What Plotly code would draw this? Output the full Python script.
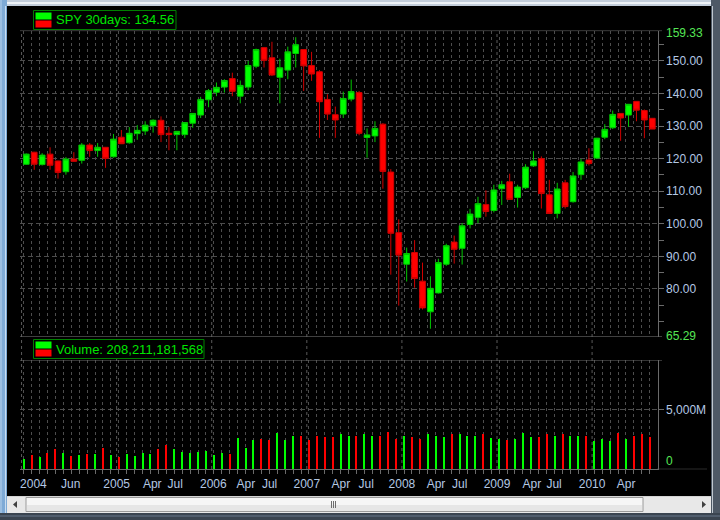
import plotly.graph_objects as go

# ---------------- data ----------------
opens = [118.3, 122.0, 118.2, 121.4, 119.3, 116.0, 119.9, 119.5, 124.2, 122.5,
         123.5, 120.6, 126.6, 124.9, 127.7, 128.5, 130.1, 131.8, 127.8, 127.4,
         127.4, 130.9, 133.4, 138.1, 140.4, 142.0, 144.6, 139.2, 142.0, 148.4,
         154.1, 151.0, 145.0, 147.2, 152.3, 153.5, 148.6, 146.7, 138.2, 133.5,
         133.7, 138.3, 140.3, 126.5, 127.0, 130.6, 115.9, 97.3, 87.6, 91.2,
         82.4, 73.0, 78.8, 87.6, 94.4, 92.5, 99.8, 102.0, 105.9, 104.1,
         110.8, 112.9, 108.1, 111.1, 117.8, 120.0, 108.9, 103.2, 112.6, 106.8,
         115.1, 119.6, 120.2, 126.6, 129.5, 133.9, 133.4, 137.6, 134.8, 132.4]
highs = [121.6, 122.1, 121.7, 123.5, 119.4, 120.5, 122.0, 124.8, 124.8, 124.8,
         123.6, 127.6, 128.8, 129.7, 130.3, 131.5, 132.1, 133.0, 129.7, 128.4,
         131.1, 133.9, 139.0, 141.4, 143.4, 144.4, 146.4, 144.0, 150.0, 153.8,
         154.3, 155.9, 150.7, 154.4, 157.3, 153.5, 152.8, 147.2, 139.8, 136.0,
         140.6, 144.3, 140.8, 129.3, 131.5, 130.9, 116.8, 101.4, 92.7, 95.0,
         88.1, 83.9, 89.3, 93.9, 96.4, 100.2, 104.6, 108.3, 110.3, 112.0,
         113.2, 115.4, 112.0, 118.3, 122.3, 120.7, 113.5, 112.6, 113.5, 115.9,
         119.9, 123.2, 126.4, 130.6, 134.8, 134.0, 136.8, 137.7, 135.1, 132.4]
lows = [118.1, 116.6, 117.9, 116.6, 113.9, 115.1, 119.1, 118.5, 120.6, 120.6,
        117.2, 120.3, 124.5, 124.6, 125.8, 127.3, 128.0, 125.1, 122.6, 122.6,
        126.4, 129.5, 132.5, 135.8, 139.2, 140.3, 139.2, 137.0, 141.0, 147.8,
        148.0, 145.4, 137.0, 144.4, 148.0, 140.8, 143.9, 126.4, 131.9, 126.4,
        132.5, 137.6, 127.2, 120.3, 125.1, 110.8, 84.4, 74.9, 82.3, 80.4,
        73.7, 67.8, 78.6, 87.1, 87.8, 87.5, 98.6, 100.2, 102.2, 103.5,
        105.8, 107.4, 105.0, 110.7, 117.5, 104.7, 103.1, 101.7, 104.7, 106.5,
        113.5, 117.9, 120.0, 126.0, 129.1, 125.5, 129.8, 131.5, 126.3, 129.1]
closes = [121.4, 118.3, 121.1, 118.0, 115.8, 119.9, 119.2, 124.2, 122.5, 123.5,
          120.1, 126.0, 124.6, 127.8, 128.7, 130.3, 131.8, 127.4, 127.4, 128.4,
          131.1, 133.9, 138.2, 140.9, 141.9, 144.0, 140.7, 142.5, 148.6, 153.5,
          150.2, 145.7, 147.9, 152.8, 155.0, 148.5, 146.0, 137.5, 133.7, 131.9,
          138.5, 140.6, 127.8, 127.3, 129.3, 116.1, 97.1, 90.4, 90.9, 83.2,
          74.2, 80.2, 88.1, 93.3, 92.2, 99.4, 103.0, 106.2, 103.8, 110.4,
          112.0, 107.5, 111.3, 117.4, 119.3, 109.3, 103.2, 110.7, 105.3, 114.7,
          119.0, 118.5, 126.3, 129.0, 133.6, 132.5, 136.7, 134.9, 131.9, 129.1]
volumes_m = [860, 1190, 1030, 1360, 1690, 1360, 1110, 1190, 1280, 1280,
             1780, 1190, 1030, 1280, 1110, 1360, 1280, 1690, 2030, 1690,
             1440, 1360, 1440, 1530, 1190, 1360, 1280, 2610, 1780, 2440,
             2530, 2440, 3030, 2440, 2780, 2780, 2440, 2780, 2690, 2690,
             2940, 2780, 2780, 2940, 2780, 2780, 3110, 2530, 2780, 2690,
             2530, 2940, 2780, 2690, 2940, 2940, 2780, 2780, 2940, 2610,
             2530, 2440, 2530, 3030, 2690, 2690, 2940, 2780, 2940, 2780,
             2780, 2780, 2360, 2530, 2360, 3030, 2530, 2780, 2940, 2690]
tick_labels = ["2004", "Jun", "2005", "Apr", "Jul", "2006", "Apr", "Jul", "2007", "Apr",
               "Jul", "2008", "Apr", "Jul", "2009", "Apr", "Jul", "2010", "Apr"]
tick_pos = [0.9, 5.6, 11.4, 15.9, 18.8, 23.6, 27.7, 30.7, 35.4, 39.7,
            42.9, 47.4, 51.7, 54.7, 59.4, 63.8, 66.6, 71.4, 75.7]
year_lines = [-0.6, 11.4, 23.4, 35.4, 47.4, 59.4, 71.4]
price_ticks = [80, 90, 100, 110, 120, 130, 140, 150]
price_min, price_max = 65.29, 159.33
vol_top = 9108
legend_price = "SPY 30days: 134.56"
legend_volume = "Volume: 208,211,181,568"

idx = list(range(len(opens)))
slot = [i - 0.33 for i in idx]
vol_colors = ["#00ff00" if c >= o else "#ff0000" for o, c in zip(opens, closes)]

W, H = 720, 520
def px(x):
    return x / W
def py(y):
    return 1 - y / H

FONT = "Liberation Sans, Arial, sans-serif"
LBL = "#b4c8e4"
GRN = "#55e655"
GRID = "#4d4d4d"
AX = "#6a6a6a"

fig = go.Figure()
fig.add_trace(go.Candlestick(
    x=idx, open=opens, high=highs, low=lows, close=closes,
    xaxis="x", yaxis="y",
    increasing=dict(line=dict(color="#00c800", width=1), fillcolor="#00ff00"),
    decreasing=dict(line=dict(color="#d00000", width=1), fillcolor="#ff0000"),
    whiskerwidth=0, hoverinfo="skip", showlegend=False))
fig.add_trace(go.Bar(
    x=slot, y=volumes_m, width=0.13, xaxis="x", yaxis="y2",
    marker=dict(color=vol_colors, line=dict(width=0)),
    hoverinfo="skip", showlegend=False))

shapes = []
def prect(x0, x1, y0, y1, fill, line=None, layer="above"):
    shapes.append(dict(type="rect", xref="paper", yref="paper", x0=px(x0), x1=px(x1),
                       y0=py(y1), y1=py(y0), fillcolor=fill,
                       line=line if line else dict(width=0), layer=layer))
def pline(x0, y0, x1, y1, color, width=1):
    shapes.append(dict(type="line", xref="paper", yref="paper", x0=px(x0), x1=px(x1),
                       y0=py(y0), y1=py(y1), line=dict(color=color, width=width), layer="above"))

# window frame (decoration)
prect(0, 720, 0, 6, "#c3cedb")
pline(0, 3, 720, 3, "#eef2f6", 2)
prect(0, 7, 0, 520, "#7eaad6")
pline(1, 0, 1, 520, "#b8d2ec", 1)
pline(5.5, 6, 5.5, 513, "#c8dcf0", 1)
prect(711, 720, 0, 520, "#4e5966")
pline(712.5, 6, 712.5, 513, "#c0c8d0", 1)
prect(0, 720, 513, 520, "#3a4450")
pline(0, 516, 720, 516, "#66768a", 1)
# scrollbar
prect(7, 711, 496, 513, "#e8e8e8")
pline(7, 496.5, 711, 496.5, "#d4d4d4", 1)
prect(26, 643, 497.5, 511.5, "#f6f6f6", dict(color="#9a9a9a", width=1))
prect(27, 642, 505, 511, "#e6e6e6")
for gx in (331.5, 333.5, 335.5):
    pline(gx, 501, gx, 508, "#6e6e6e", 1)
shapes.append(dict(type="path", xref="paper", yref="paper", layer="above",
                   path=f"M {px(17)} {py(501)} L {px(17)} {py(508)} L {px(13)} {py(504.5)} Z",
                   fillcolor="#404040", line=dict(width=0)))
shapes.append(dict(type="path", xref="paper", yref="paper", layer="above",
                   path=f"M {px(702)} {py(501)} L {px(702)} {py(508)} L {px(706)} {py(504.5)} Z",
                   fillcolor="#404040", line=dict(width=0)))

# panel border lines
for yv in (price_min, price_max):
    shapes.append(dict(type="line", xref="paper", yref="y", x0=px(20), x1=px(662), y0=yv, y1=yv,
                       line=dict(color=AX, width=1)))
shapes.append(dict(type="line", xref="paper", yref="y2", x0=px(20), x1=px(662), y0=vol_top, y1=vol_top,
                   line=dict(color=AX, width=1)))
shapes.append(dict(type="line", xref="paper", yref="y2", x0=px(657), x1=px(707), y0=0, y1=0,
                   line=dict(color=AX, width=1)))
# year lines
for xv in year_lines:
    shapes.append(dict(type="line", xref="x", yref="paper", x0=xv, x1=xv, y0=py(469), y1=py(31),
                       line=dict(color="#5a5a5a", width=1, dash="3px,3px"), layer="below"))
# legend boxes
def legend_box(x0, x1, y0, y1):
    shapes.append(dict(type="rect", xref="paper", yref="paper", x0=px(x0), x1=px(x1), y0=py(y1), y1=py(y0),
                       fillcolor="black", line=dict(color="#008000", width=1)))
    mid = (y0 + y1) / 2
    shapes.append(dict(type="rect", xref="paper", yref="paper", x0=px(x0 + 2), x1=px(x0 + 18),
                       y0=py(mid - 0.5), y1=py(y0 + 2), fillcolor="#00ff00", line=dict(width=0)))
    shapes.append(dict(type="rect", xref="paper", yref="paper", x0=px(x0 + 2), x1=px(x0 + 18),
                       y0=py(y1 - 2), y1=py(mid + 0.5), fillcolor="#ff0000", line=dict(width=0)))
legend_box(33.5, 176, 10.5, 29.5)
legend_box(33.5, 204, 339.5, 358.5)

annotations = [
    dict(xref="paper", yref="paper", x=px(54), y=py(20), xanchor="left", yanchor="middle",
         text=legend_price, showarrow=False, font=dict(family=FONT, size=13, color="#00e600")),
    dict(xref="paper", yref="paper", x=px(54), y=py(349), xanchor="left", yanchor="middle",
         text=legend_volume, showarrow=False, font=dict(family=FONT, size=13, color="#00e600")),
    dict(xref="paper", yref="y", x=px(664), y=price_max, yshift=-2, xanchor="left", yanchor="middle",
         text=f"{price_max:.2f}", showarrow=False, font=dict(family=FONT, size=12, color=GRN)),
    dict(xref="paper", yref="y", x=px(664), y=price_min, yshift=1, xanchor="left", yanchor="middle",
         text=f"{price_min:.2f}", showarrow=False, font=dict(family=FONT, size=12, color=GRN)),
    dict(xref="paper", yref="y2", x=px(664), y=0, yshift=8, xanchor="left", yanchor="middle",
         text="0", showarrow=False, font=dict(family=FONT, size=12, color=GRN)),
]

fig.update_layout(
    width=W, height=H, margin=dict(l=0, r=0, t=0, b=0),
    paper_bgcolor="black", plot_bgcolor="black",
    boxgap=0.28, boxgroupgap=0, bargap=0,
    showlegend=False, hovermode=False,
    shapes=shapes, annotations=annotations,
    xaxis=dict(
        domain=[px(20), px(657.7)], range=[-0.795, 79.68], anchor="y2",
        rangeslider=dict(visible=False),
        showline=True, linecolor=AX, linewidth=1,
        tickmode="array", tickvals=tick_pos, ticktext=tick_labels, ticks="",
        ticklabelstandoff=3,
        tickfont=dict(family=FONT, size=12, color=LBL),
        showgrid=False, zeroline=False,
        minor=dict(tickmode="array", tickvals=slot, ticks="outside", ticklen=4, tickcolor=AX,
                   showgrid=True, gridcolor=GRID, griddash="3px,3px", gridwidth=1),
    ),
    yaxis=dict(
        domain=[py(336.9), py(30.6)], range=[price_min, price_max], anchor="x", side="right",
        showline=True, linecolor=AX, linewidth=1,
        tickmode="array", tickvals=price_ticks, ticktext=[f"{v:.2f}" for v in price_ticks],
        ticks="outside", ticklen=5, tickcolor=AX,
        tickfont=dict(family=FONT, size=12, color=LBL),
        showgrid=True, gridcolor=GRID, griddash="5px,3px", zeroline=False,
        minor=dict(tickmode="array", tickvals=[v + 5 for v in price_ticks] + [70, 75],
                   ticks="outside", ticklen=5, tickcolor=AX, showgrid=False),
    ),
    yaxis2=dict(
        domain=[py(469.3), py(360)], range=[0, vol_top], anchor="x", side="right",
        showline=True, linecolor=AX, linewidth=1,
        tickmode="array", tickvals=[5000], ticktext=["5,000M"],
        ticks="outside", ticklen=5, tickcolor=AX,
        tickfont=dict(family=FONT, size=12, color=LBL),
        showgrid=True, gridcolor=GRID, griddash="5px,3px", zeroline=False,
    ),
)

fig.write_html("out.html", config={"displayModeBar": False},
               post_script="document.body.style.margin='0';document.body.style.overflow='hidden';")
